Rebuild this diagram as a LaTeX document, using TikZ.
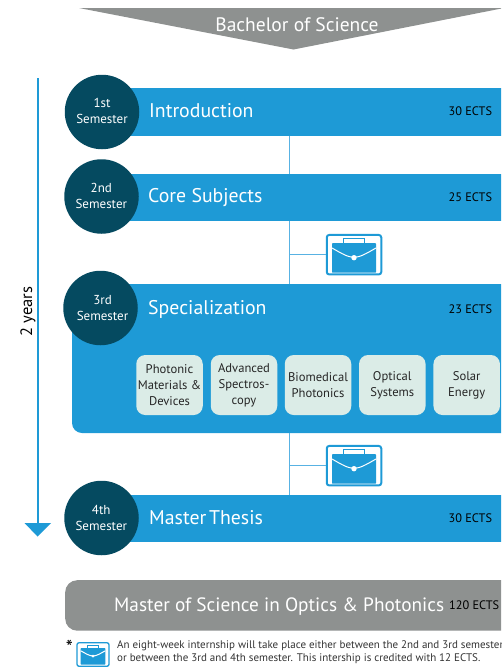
\documentclass[tikz,border=0pt]{standalone}
\usepackage{fontspec}
\setmainfont{PT Sans}
\usetikzlibrary{positioning}
\definecolor{barblue}{HTML}{1E9AD6}
\definecolor{linkblue}{HTML}{58B2E3}
\definecolor{deepteal}{HTML}{054A60}
\definecolor{greybar}{HTML}{8E9190}
\definecolor{palebox}{HTML}{DBECE7}
\definecolor{notegrey}{HTML}{333333}
\tikzset{
  bar/.style={fill=barblue,inner sep=0pt,outer sep=0pt,minimum width=460,anchor=north west},
  sem/.style={circle,fill=deepteal,inner sep=0pt,minimum size=74.5},
  semtext/.style={text=white,inner sep=0pt,align=center,font=\fontsize{13}{16.2}\selectfont},
  bartitle/.style={text=white,inner sep=0pt,anchor=base west,font=\fontsize{19.8}{22}\selectfont},
  ects/.style={text=black,inner sep=0pt,anchor=base west,font=\fontsize{12.3}{14}\selectfont},
  spec/.style={fill=palebox,rounded corners=9,inner sep=0pt,minimum width=66.5,minimum height=60,align=center,text=black!85,font=\fontsize{12.6}{16}\selectfont},
  link/.style={draw=linkblue,line width=1.2},
  bagframe/.style={draw=barblue,fill=white,rounded corners=2.5,line width=2,inner sep=0pt,minimum width=54.5,minimum height=39.5},
  pics/bag/.style={code={
    \fill[barblue,rounded corners=0.6] (-22,-11.5) rectangle (22,18);
    \draw[barblue,line width=1] (-10.5,-11.5) -- (-10.5,-16.5) -- (10.5,-16.5) -- (10.5,-11.5);
    \draw[white,line width=1] (-22,-6.7) .. controls (-12,-1) and (-6,2.6) .. (0,2.6) .. controls (6,2.6) and (12,-1) .. (22,-6.7);
    \fill[white] (0,3) circle (2.7);
  }}
}
\begin{document}
\begin{tikzpicture}[x=1pt,y=-1pt]
\useasboundingbox (0,0) rectangle (501,667);
\clip (0,0) rectangle (501,667);
% Bachelor banner
\fill[greybar] (79,8) -- (501,8) -- (501,8.6) -- (293.5,49.5) -- cycle;
\node[text=white,inner sep=0pt,anchor=base,font=\fontsize{19.5}{22}\selectfont] (bsc) at (297,31.3) {Bachelor of Science};
% Time arrow
\coordinate (tstart) at (37.5,78);
\coordinate (tend) at (37.5,524);
\draw[barblue,line width=2] (tstart) -- (tend);
\fill[barblue] (24.5,523) -- (51,523) -- (37.5,536.5) -- cycle;
\node[rotate=90,inner sep=0pt,text=black,font=\fontsize{16.5}{18}\selectfont] (years) at (28,311.5) {2 years};
% Bars
\node[bar,minimum height=47.5] (intro) at (100,88) {};
\node[bar,minimum height=47] (core) at (100,173.5) {};
\node[bar,minimum height=149,minimum width=460,rounded corners=10] (special) at (72,284) {};
\node[bar,minimum height=47.5] (thesis) at (100,494.5) {};
\node[fill=greybar,rounded corners=12,inner sep=0pt,minimum width=460,minimum height=50.5,anchor=north west] (msc) at (65,580) {};
% Connectors
\coordinate (spine) at (289.5,0);
\draw[link] (intro.south -| spine) -- (core.north -| spine);
\draw[link] (core.south -| spine) -- (special.north -| spine);
\draw[link] (special.south -| spine) -- (thesis.north -| spine);
% Briefcases
\node[bagframe] (bagA) at (354,254.7) {};
\pic at (bagA.center) {bag};
\node[bagframe] (bagB) at (354,465.7) {};
\pic at (bagB.center) {bag};
\draw[link] (bagA.west -| spine) -- (bagA.west);
\draw[link] (bagB.west -| spine) -- (bagB.west);
% Semester circles
\node[sem] (s1) at (102,112) {};
\node[sem] (s2) at (101.5,196.5) {};
\node[sem] (s3) at (100.5,308) {};
\node[sem] (s4) at (101.5,518) {};
\node[semtext] (l1) at (102,111.3) {1st\\Semester};
\node[semtext] (l2) at (101.3,195.7) {2nd\\Semester};
\node[semtext] (l3) at (102.5,307.7) {3rd\\Semester};
\node[semtext] (l4) at (101.3,517.7) {4th\\Semester};
% Titles
\node[bartitle] (tintro) at (149,117) {Introduction};
\node[bartitle] (tcore) at (148,202.7) {Core Subjects};
\node[bartitle] (tspecial) at (148,314.3) {Specialization};
\node[bartitle] (tthesis) at (149,524) {Master\hspace{-2.5pt} Thesis};
\node[ects] (e1) at (448.5,115) {30 ECTS};
\node[ects] (e2) at (448.5,201) {25 ECTS};
\node[ects] (e3) at (448.5,313.3) {23 ECTS};
\node[ects] (e4) at (448.5,522.3) {30 ECTS};
% Specialization boxes
\node[spec] (b1) at (169.5,385) {Photonic\\Materials \&\\Devices};
\node[spec] (b2) at (244,385) {Advanced\\Spectros-\\copy};
\node[spec] (b3) at (318,385) {Biomedical\\Photonics};
\node[spec] (b4) at (392.3,385) {Optical\\Systems};
\node[spec] (b5) at (466.7,385) {Solar\\Energy};
% Master
\node[text=white,inner sep=0pt,anchor=base west,font=\fontsize{19.3}{22}\selectfont] (tmsc) at (114,611) {Master of Science in Optics \& Photonics};
\node[ects] (e5) at (449,609) {120 ECTS};
% Footnote
\node[inner sep=0pt,text=black,font=\fontsize{20}{20}\selectfont] (star) at (69.5,647) {*};
\node[bagframe,minimum width=32,minimum height=23.5,line width=1.3,rounded corners=2] (bagC) at (93,654.5) {};
\pic[scale=0.56] at (bagC.center) {bag};
\node[inner sep=0pt,anchor=north west,text=notegrey,align=left,font=\fontsize{11}{13}\selectfont] (note) at (117,640.5) {An eight-week internship will take place either between the 2nd and 3rd semester\\or between the 3rd and 4th semester. This intership is credited with 12 ECTS.};
\end{tikzpicture}
\end{document}
